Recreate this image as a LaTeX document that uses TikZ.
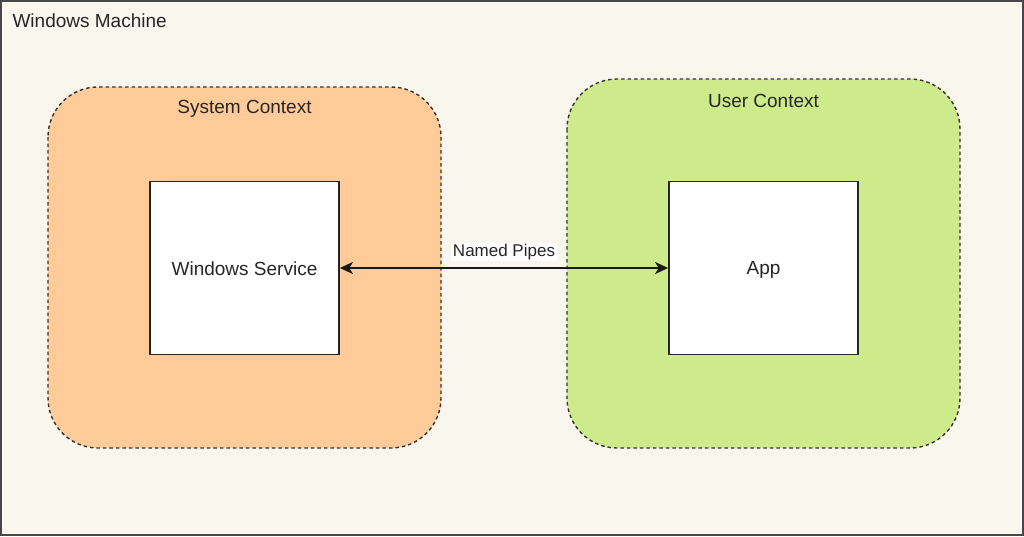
\documentclass[tikz,border=0pt]{standalone}
\usepackage{fontspec}
\setmainfont{Liberation Sans}
\usetikzlibrary{arrows.meta}
\definecolor{bgc}{HTML}{F9F6EE}
\definecolor{sysc}{HTML}{FFCC99}
\definecolor{usrc}{HTML}{CDEB8B}
\definecolor{linec}{HTML}{333333}
\tikzset{
  ctx/.style={draw=linec, line width=1.4pt, dash pattern=on 3.5pt off 3pt, rounded corners=50pt},
  comp/.style={draw=black!85, line width=1.8pt, fill=white},
  lbl/.style={font=\fontsize{19}{22}\selectfont, text=black!85},
  link/.style={line width=1.8pt, black!90, {Stealth[length=13pt,width=12pt,inset=3.5pt]}-{Stealth[length=13pt,width=12pt,inset=3.5pt]}},
}
\begin{document}
\begin{tikzpicture}[x=1pt,y=-1pt]
\useasboundingbox (0,0) rectangle (1024,536);
\draw[fill=bgc, draw=linec!90, line width=2pt] (1,1) rectangle (1023,535);
\node[lbl, anchor=west] (wm) at (9,21) {Windows Machine};
\draw[ctx, fill=sysc] (48,87) rectangle (441,448);
\draw[ctx, fill=usrc] (567,79) rectangle (960,448);
\node[lbl] (sc) at (244.5,109) {System Context};
\node[lbl] (uc) at (763.5,101) {User Context};
\node[comp, minimum width=189pt, minimum height=173pt] (ws) at (244.5,268) {};
\node[comp, minimum width=189pt, minimum height=173pt] (app) at (763.5,268) {};
\node[lbl] (wst) at (244.5,269) {Windows Service};
\node[lbl] (appt) at (763.5,269.5) {App};
\draw[link] (ws.east) -- (app.west);
\node[font=\fontsize{17}{20}\selectfont, fill=white, inner sep=1.5pt, text=black!85] (np) at (504,252) {Named Pipes};
\end{tikzpicture}
\end{document}
